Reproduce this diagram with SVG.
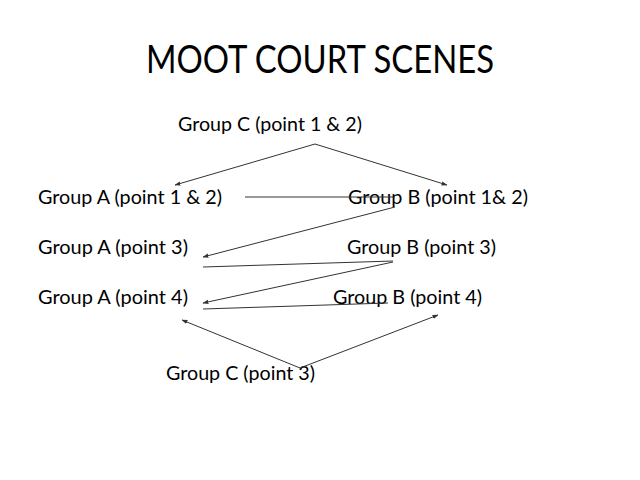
<svg xmlns="http://www.w3.org/2000/svg" width="640" height="480" viewBox="0 0 640 480">
<defs>
<style>
text{font-family:"Lato","Open Sans","Liberation Sans",sans-serif;fill:#000}
.t{font-size:38px}
.l{font-size:19px}
.c line{stroke:#333;stroke-width:1}
.a{marker-end:url(#ah)}
</style>
<marker id="ah" viewBox="0 0 10 10" refX="9" refY="5" markerWidth="6" markerHeight="6" orient="auto" markerUnits="userSpaceOnUse">
<path d="M0,1.5 L10,5 L0,8.5 z" fill="#333"/>
</marker>
</defs>
<rect width="640" height="480" fill="#fff"/>
<text class="t" x="146" y="73" textLength="348" lengthAdjust="spacingAndGlyphs">MOOT COURT SCENES</text>
<g id="c12"><text class="l" x="178" y="131" textLength="184" lengthAdjust="spacingAndGlyphs">Group C (point 1 &amp; 2)</text></g>
<g id="a12"><text class="l" x="38" y="204" textLength="184" lengthAdjust="spacingAndGlyphs">Group A (point 1 &amp; 2)</text></g>
<g id="b12"><text class="l" x="348" y="204" textLength="180" lengthAdjust="spacingAndGlyphs">Group B (point 1&amp; 2)</text></g>
<g id="a3"><text class="l" x="38" y="254" textLength="150" lengthAdjust="spacingAndGlyphs">Group A (point 3)</text></g>
<g id="b3"><text class="l" x="347" y="254" textLength="149" lengthAdjust="spacingAndGlyphs">Group B (point 3)</text></g>
<g id="a4"><text class="l" x="38" y="304" textLength="150" lengthAdjust="spacingAndGlyphs">Group A (point 4)</text></g>
<g id="b4"><text class="l" x="333" y="304" textLength="149" lengthAdjust="spacingAndGlyphs">Group B (point 4)</text></g>
<g id="c3"><text class="l" x="166" y="380" textLength="149" lengthAdjust="spacingAndGlyphs">Group C (point 3)</text></g>
<g id="connectors" class="c">
<line class="a" x1="315" y1="144" x2="175" y2="185"/>
<line class="a" x1="315" y1="144" x2="447" y2="185"/>
<line x1="245" y1="197" x2="393" y2="197"/>
<line class="a" x1="395" y1="207" x2="203" y2="257"/>
<line x1="203" y1="267" x2="393" y2="261"/>
<line class="a" x1="393" y1="262" x2="203" y2="303"/>
<line x1="203" y1="309" x2="388" y2="303"/>
<line class="a" x1="300" y1="368" x2="182" y2="320"/>
<line class="a" x1="300" y1="368" x2="438" y2="315"/>
</g>
</svg>
